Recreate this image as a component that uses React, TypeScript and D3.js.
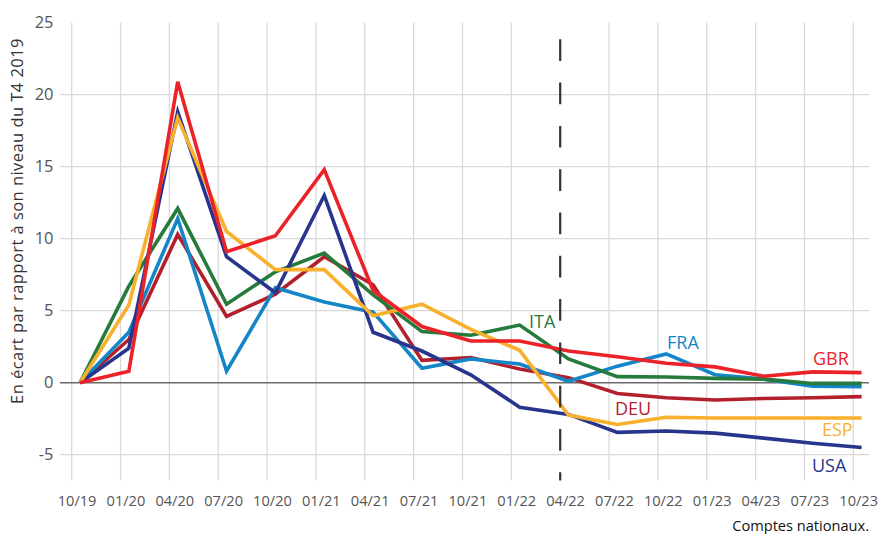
import React from 'react';
import * as d3 from 'd3';

// quarters on the x axis
const quarters = ['10/19', '01/20', '04/20', '07/20', '10/20', '01/21', '04/21', '07/21', '10/21', '01/22', '04/22', '07/22', '10/22', '01/23', '04/23', '07/23', '10/23'];

// gap vs Q4 2019 level
const gbr = [0, 0.8, 20.9, 9.1, 10.2, 14.8, 6.4, 3.9, 2.9, 2.9, 2.2, 1.8, 1.35, 1.1, 0.45, 0.75, 0.7];
const usa = [0, 2.4, 18.8, 8.75, 6.25, 13.0, 3.5, 2.2, 0.55, -1.7, -2.2, -3.45, -3.35, -3.5, -3.85, -4.2, -4.5];
const esp = [0, 5.4, 18.4, 10.5, 7.85, 7.85, 4.65, 5.45, 3.7, 2.25, -2.25, -2.9, -2.4, -2.45, -2.45, -2.45, -2.45];
const ita = [0, 6.7, 12.1, 5.45, 7.7, 9.0, 6.1, 3.55, 3.3, 4.0, 1.65, 0.42, 0.4, 0.3, 0.25, -0.05, -0.05];
const fra = [0, 3.5, 11.4, 0.8, 6.6, 5.6, 4.9, 1.0, 1.65, 1.3, 0.1, 1.15, 2.0, 0.55, 0.25, -0.25, -0.28];
const deu = [0, 3.0, 10.3, 4.6, 6.15, 8.75, 6.8, 1.55, 1.75, 0.95, 0.35, -0.75, -1.05, -1.2, -1.1, -1.05, -0.97];

const yTicks = [-5, 0, 5, 10, 15, 20, 25];

const series = [
  { name: 'DEU', values: deu, color: '#b3202c', lx: 615, ly: 415 },
  { name: 'FRA', values: fra, color: '#1485c7', lx: 667, ly: 349 },
  { name: 'ITA', values: ita, color: '#257a3c', lx: 529, ly: 328 },
  { name: 'USA', values: usa, color: '#27358c', lx: 812, ly: 472 },
  { name: 'ESP', values: esp, color: '#f9b02c', lx: 822, ly: 436 },
  { name: 'GBR', values: gbr, color: '#ec2229', lx: 813, ly: 365 },
];

const font = '"Open Sans", sans-serif';

export default function App() {
  const width = 878;
  const height = 534;

  // grid positions (quarter starts)
  const x = d3.scaleLinear().domain([0, 16]).range([71.7, 853.3]);
  const y = d3.scaleLinear().domain([-5, 25]).range([454.7, 22.7]);
  const offset = 0.17; // points sit a bit after each gridline

  const line = d3.line<number>()
    .x((d, i) => x(i + offset))
    .y(d => y(d));

  const gridBottom = y(-6.8);
  const dashIdx = quarters.indexOf('04/22');

  return (
    <svg width={width} height={height} style={{ position: 'absolute', left: 0, top: 0, background: '#fff' }}>
      {/* vertical grid */}
      {quarters.map((q, i) => i === dashIdx ? null : (
        <line key={q} x1={x(i)} x2={x(i)} y1={y(25)} y2={gridBottom} stroke="#d9d9d9" strokeWidth={1.3} />
      ))}
      {/* horizontal grid */}
      {yTicks.filter(t => t !== 0 && t !== 25).map(t => (
        <line key={t} x1={60} x2={869} y1={y(t)} y2={y(t)} stroke="#d9d9d9" strokeWidth={1.3} />
      ))}
      <line x1={60} x2={869} y1={y(0)} y2={y(0)} stroke="#6b6b6b" strokeWidth={1.6} />

      {/* y labels */}
      {yTicks.map(t => (
        <text key={t} x={53.5} y={y(t) + 5} textAnchor="end" fontFamily={font} fontSize={16.5} fill="#555">{t}</text>
      ))}
      {/* x labels */}
      {quarters.map((q, i) => (
        <text key={q} x={x(i + 0.11)} y={505.5} textAnchor="middle" fontFamily={font} fontSize={14.6} fill="#555">{q}</text>
      ))}

      <text transform={`translate(22.5,221) rotate(-90)`} textAnchor="middle" fontFamily={font} fontSize={16.5} letterSpacing={0.45} fill="#333">
        En écart par rapport à son niveau du T4 2019
      </text>

      {/* series */}
      {series.map(s => (
        <path key={s.name} d={line(s.values) || ''} fill="none" stroke={s.color} strokeWidth={3.6} strokeLinejoin="miter" />
      ))}

      {/* dashed marker at 04/22 */}
      <line x1={x(dashIdx)} x2={x(dashIdx)} y1={39.3} y2={gridBottom} stroke="#333" strokeWidth={2.2} strokeDasharray="21.7 21.6" />

      {series.map(s => (
        <text key={s.name} x={s.lx} y={s.ly} fontFamily={font} fontSize={18} fill={s.color}>{s.name}</text>
      ))}

      <text x={869} y={531} textAnchor="end" fontFamily={font} fontSize={14.6} fill="#111">Comptes nationaux.</text>
    </svg>
  );
}
